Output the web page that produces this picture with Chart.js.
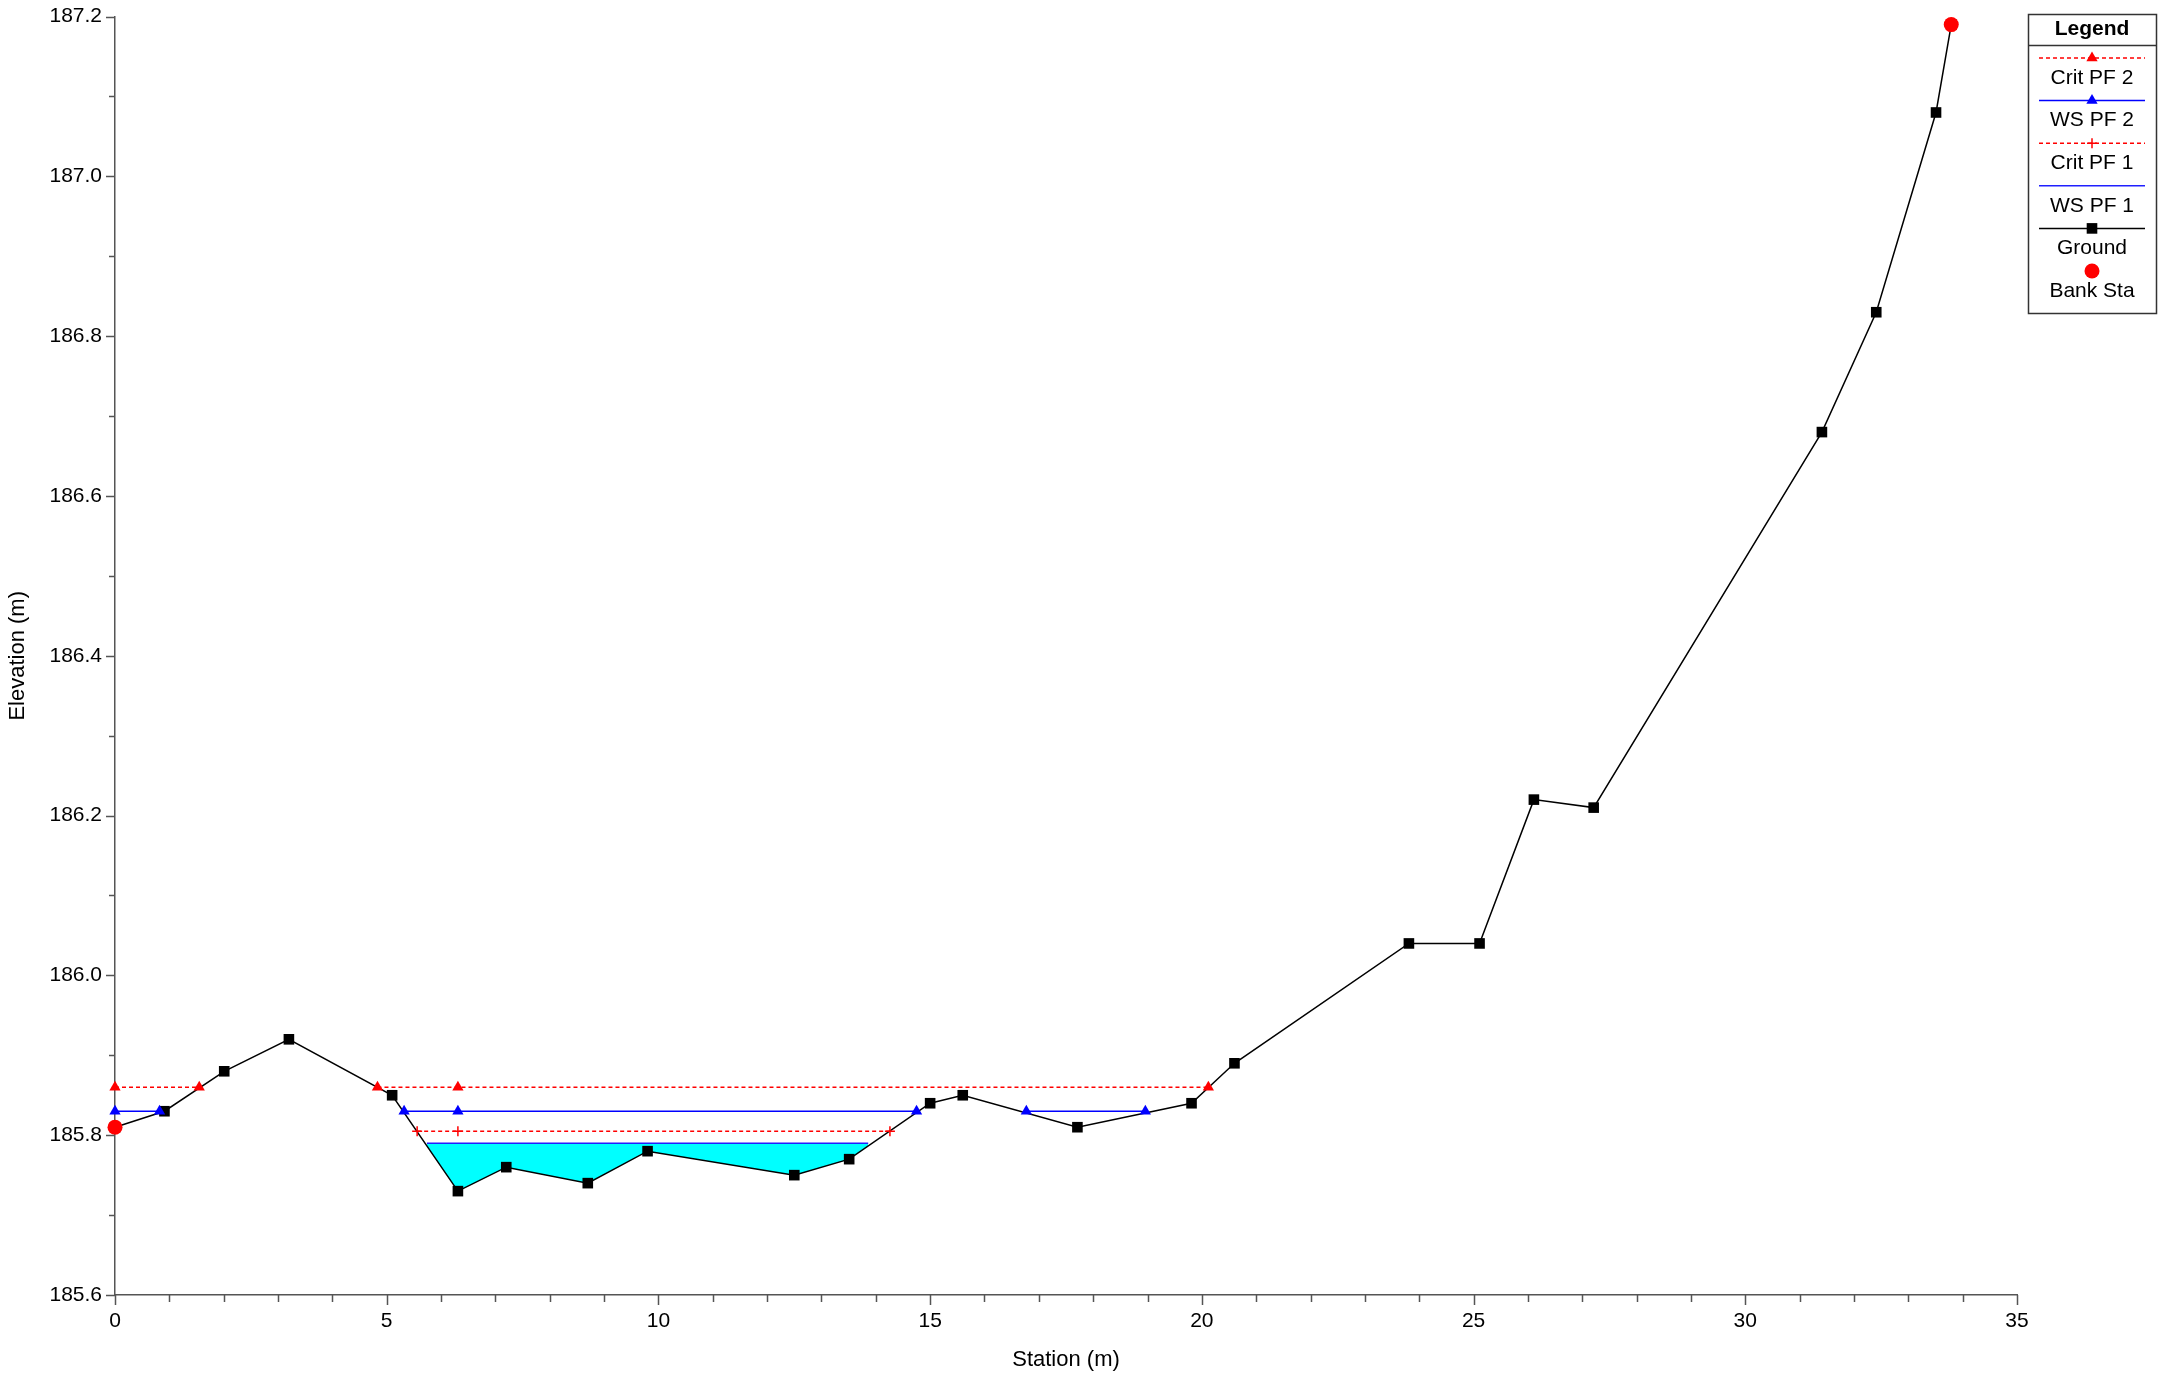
<!DOCTYPE html>
<html>
<head>
<meta charset="utf-8">
<script src="https://cdn.jsdelivr.net/npm/chart.js@4.4.1/dist/chart.umd.min.js"></script>
<style>
  html, body { margin: 0; padding: 0; background: #fff; }
  #wrap { width: 2163px; height: 1376px; }
</style>
</head>
<body>
<div id="wrap"><canvas id="xsChart" width="2163" height="1376"></canvas></div>
<script>
// cross section values
const groundStations = [0, 0.91, 2.01, 3.20, 5.10, 6.31, 7.20, 8.70, 9.80, 12.50, 13.51, 15.0, 15.6, 17.71, 19.81, 20.6, 23.81, 25.11, 26.11, 27.21, 31.41, 32.41, 33.51, 33.79];
const groundElev = [185.81, 185.83, 185.88, 185.92, 185.85, 185.73, 185.76, 185.74, 185.78, 185.75, 185.77, 185.84, 185.85, 185.81, 185.84, 185.89, 186.04, 186.04, 186.22, 186.21, 186.68, 186.83, 187.08, 187.19];
const bankStations = [0, 33.79];
const bankElev = [185.81, 187.19];

// water surfaces (null = break in the line)
const critPF2Stations = [0, 1.55, null, 4.83, 6.31, 20.12];
const critPF2Elev = 185.86;
const wsPF2Stations = [0, 0.82, null, 5.32, 6.31, 14.75, null, 16.77, 18.96];
const wsPF2Elev = 185.83;
const critPF1Stations = [5.56, 6.31, 14.26];
const critPF1Elev = 185.805;
const wsPF1Stations = [5.74, 13.86];
const wsPF1Elev = 185.79;

const xTickLabels = ['0', '5', '10', '15', '20', '25', '30', '35'];
const yTickLabels = ['185.6', '185.8', '186.0', '186.2', '186.4', '186.6', '186.8', '187.0', '187.2'];

const toPoints = (xs, ys) => xs.map((x, i) => ({
  x: x,
  y: x === null ? null : (Array.isArray(ys) ? ys[i] : ys)
}));

Chart.defaults.font.family = '"Liberation Sans", Arial, sans-serif';
Chart.defaults.color = '#000';

const tickMarks = {
  id: 'tickMarks',
  afterDraw(chart) {
    const { ctx, chartArea } = chart;
    const x = chart.scales.x, y = chart.scales.y;
    ctx.save();
    ctx.strokeStyle = '#555';
    ctx.lineWidth = 1.5;
    ctx.beginPath();
    x.ticks.forEach((t) => {
      const px = Math.round(x.getPixelForValue(t.value)) + 0.5;
      const len = t.value % 5 === 0 ? 10 : 7;
      ctx.moveTo(px, chartArea.bottom);
      ctx.lineTo(px, chartArea.bottom + len);
    });
    y.ticks.forEach((t, i) => {
      const py = Math.round(y.getPixelForValue(t.value)) + 0.5;
      const len = i % 2 === 0 ? 9 : 6;
      ctx.moveTo(chartArea.left, py);
      ctx.lineTo(chartArea.left - len, py);
    });
    ctx.stroke();
    ctx.restore();
  }
};

function drawMarker(ctx, style, r, x, y, color) {
  ctx.fillStyle = color;
  ctx.strokeStyle = color;
  ctx.setLineDash([]);
  ctx.beginPath();
  if (style === 'triangle') {
    ctx.moveTo(x, y - r);
    ctx.lineTo(x + r * 0.87, y + r * 0.5);
    ctx.lineTo(x - r * 0.87, y + r * 0.5);
    ctx.closePath();
    ctx.fill();
  } else if (style === 'rect') {
    const s = r * Math.SQRT1_2;
    ctx.fillRect(x - s, y - s, 2 * s, 2 * s);
  } else if (style === 'cross') {
    ctx.lineWidth = 1.5;
    ctx.moveTo(x - r, y); ctx.lineTo(x + r, y);
    ctx.moveTo(x, y - r); ctx.lineTo(x, y + r);
    ctx.stroke();
  } else if (style === 'circle') {
    ctx.arc(x, y, r, 0, Math.PI * 2);
    ctx.fill();
  }
}

const legendBox = {
  id: 'legendBox',
  afterDraw(chart) {
    const ctx = chart.ctx;
    const left = chart.chartArea.right + 11, top = 14, w = 128, h = 299;
    const cx = left + w / 2;
    ctx.save();
    ctx.fillStyle = '#fff';
    ctx.fillRect(left, top, w, h);
    ctx.strokeStyle = '#333';
    ctx.lineWidth = 1.5;
    ctx.strokeRect(left + 0.5, top + 0.5, w, h);
    ctx.beginPath();
    ctx.moveTo(left, top + 31.5);
    ctx.lineTo(left + w, top + 31.5);
    ctx.stroke();

    ctx.fillStyle = '#000';
    ctx.textAlign = 'center';
    ctx.textBaseline = 'middle';
    ctx.font = 'bold 21px "Liberation Sans", Arial, sans-serif';
    ctx.fillText('Legend', cx, top + 15);

    ctx.font = '21px "Liberation Sans", Arial, sans-serif';
    chart.data.datasets.forEach((ds, i) => {
      const ly = top + 44 + i * 42.6;
      if (ds.showLine !== false) {
        ctx.strokeStyle = ds.borderColor;
        ctx.lineWidth = ds.borderWidth;
        ctx.setLineDash(ds.borderDash || []);
        ctx.beginPath();
        ctx.moveTo(left + 11, ly);
        ctx.lineTo(left + w - 11, ly);
        ctx.stroke();
      }
      if (ds.pointRadius > 0) {
        drawMarker(ctx, ds.pointStyle, ds.pointRadius, cx, ly, ds.pointBackgroundColor);
      }
      ctx.fillStyle = '#000';
      ctx.fillText(ds.label, cx, ly + 20);
    });
    ctx.restore();
  }
};

new Chart(document.getElementById('xsChart'), {
  type: 'line',
  data: {
    datasets: [
      {
        label: 'Crit PF 2',
        data: toPoints(critPF2Stations, critPF2Elev),
        borderColor: '#ff0000',
        borderWidth: 1.5,
        borderDash: [4, 3],
        pointStyle: 'triangle',
        pointRadius: 6.5,
        pointBackgroundColor: '#ff0000',
        pointBorderColor: '#ff0000',
        pointBorderWidth: 0
      },
      {
        label: 'WS PF 2',
        data: toPoints(wsPF2Stations, wsPF2Elev),
        borderColor: '#0000ff',
        borderWidth: 1.5,
        pointStyle: 'triangle',
        pointRadius: 6.5,
        pointBackgroundColor: '#0000ff',
        pointBorderColor: '#0000ff',
        pointBorderWidth: 0
      },
      {
        label: 'Crit PF 1',
        data: toPoints(critPF1Stations, critPF1Elev),
        borderColor: '#ff0000',
        borderWidth: 1.5,
        borderDash: [4, 3],
        pointStyle: 'cross',
        pointRadius: 5,
        pointBackgroundColor: '#ff0000',
        pointBorderColor: '#ff0000',
        pointBorderWidth: 1.5
      },
      {
        label: 'WS PF 1',
        data: toPoints(wsPF1Stations, wsPF1Elev),
        borderColor: '#2020ff',
        borderWidth: 1.5,
        pointRadius: 0,
        fill: { target: 4, above: '#00ffff', below: '#00ffff' }
      },
      {
        label: 'Ground',
        data: toPoints(groundStations, groundElev),
        borderColor: '#000',
        borderWidth: 1.5,
        pointStyle: 'rect',
        pointRadius: 7.5,
        pointBackgroundColor: '#000',
        pointBorderColor: '#000',
        pointBorderWidth: 0
      },
      {
        label: 'Bank Sta',
        data: toPoints(bankStations, bankElev),
        showLine: false,
        pointStyle: 'circle',
        pointRadius: 7.5,
        pointBackgroundColor: '#ff0000',
        pointBorderColor: '#ff0000',
        pointBorderWidth: 0,
        order: -1
      }
    ]
  },
  options: {
    responsive: false,
    animation: false,
    events: [],
    clip: false,
    layout: { padding: { top: 15, right: 146, left: 0, bottom: 0 } },
    plugins: {
      legend: { display: false },
      tooltip: { enabled: false },
      filler: { drawTime: 'beforeDatasetsDraw' }
    },
    scales: {
      x: {
        type: 'linear',
        min: 0,
        max: 35,
        afterFit: (scale) => { scale.height = 81; },
        grid: { drawOnChartArea: false, drawTicks: true, tickLength: 10, color: 'rgba(0,0,0,0)' },
        border: { display: true, color: '#555', width: 1.5 },
        ticks: {
          stepSize: 1,
          autoSkip: false,
          maxRotation: 0,
          padding: 4,
          font: { size: 21 },
          callback: (v) => xTickLabels.includes(String(v)) ? String(v) : ''
        },
        title: { display: true, text: 'Station (m)', font: { size: 22 }, padding: { top: 0, bottom: 3 } }
      },
      y: {
        min: 185.6,
        max: 187.2,
        afterFit: (scale) => { scale.width = 115; },
        grid: { drawOnChartArea: false, drawTicks: true, tickLength: 9, color: 'rgba(0,0,0,0)' },
        border: { display: true, color: '#555', width: 1.5 },
        ticks: {
          stepSize: 0.1,
          autoSkip: false,
          padding: 4,
          font: { size: 21 },
          callback: (v) => yTickLabels.includes(v.toFixed(1)) ? v.toFixed(1) : ''
        },
        title: { display: true, text: 'Elevation (m)', font: { size: 22 }, padding: { top: 5, bottom: 0 } }
      }
    }
  },
  plugins: [tickMarks, legendBox]
});
</script>
</body>
</html>
